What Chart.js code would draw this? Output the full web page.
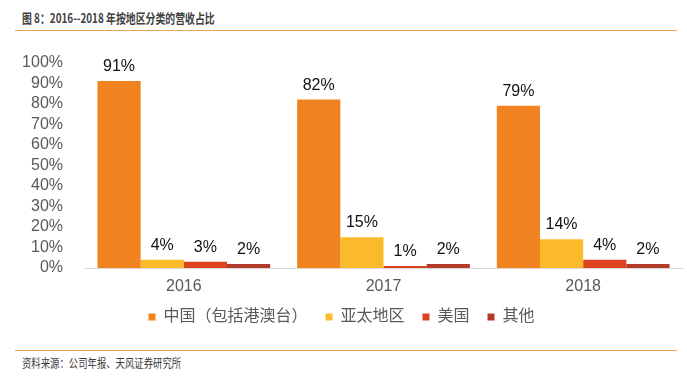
<!DOCTYPE html>
<html>
<head>
<meta charset="utf-8">
<script src="https://cdn.jsdelivr.net/npm/chart.js@4"></script>
<style>
  body { margin: 0; background: #fff; }
  #wrap { position: relative; width: 687px; height: 378px; overflow: hidden; }
  #title { position: absolute; left: 22px; top: 8px; font: bold 13px "Noto Sans CJK SC", sans-serif; color: #404040; transform: scaleX(0.76); transform-origin: left top; white-space: nowrap; }
  .rule { position: absolute; left: 15px; width: 662px; height: 1px; background: #E9A15C; }
  #source { position: absolute; left: 22px; top: 354px; font: 12px "Noto Sans CJK SC", sans-serif; color: #3a3a3a; transform: scaleX(0.78); transform-origin: left top; white-space: nowrap; }
  #chart { position: absolute; left: 0; top: 40px; }
</style>
</head>
<body>
<div id="wrap">
  <div id="title">图 8：2016--2018 年按地区分类的营收占比</div>
  <div class="rule" style="top:30px"></div>
  <canvas id="chart" width="687" height="300"></canvas>
  <div class="rule" style="top:350px"></div>
  <div id="source">资料来源：公司年报、天风证券研究所</div>
</div>
<script>
const years = ["2016", "2017", "2018"];
const seriesNames = ["中国（包括港澳台）", "亚太地区", "美国", "其他"];
const china = [91, 82, 79];
const asiaPacific = [4, 15, 14];
const usa = [3, 1, 4];
const other = [2, 2, 2];
const yTicks = [0, 10, 20, 30, 40, 50, 60, 70, 80, 90, 100];

const colors = ["#F0821F", "#FBBA2A", "#DE411E", "#B43A2B"];
const fontFamily = "'Liberation Sans', Arial, 'Noto Sans CJK SC', sans-serif";

let valueLabels = {
    id: "valueLabels",
    afterDatasetsDraw: (chart) => {
        const {ctx} = chart;
        ctx.save();
        ctx.fillStyle = "#111";
        ctx.font = "16px " + fontFamily;
        ctx.textAlign = "center";
        ctx.textBaseline = "alphabetic";
        chart.data.datasets.forEach((ds, i) => {
            chart.getDatasetMeta(i).data.forEach((bar, j) => {
                ctx.fillText(ds.data[j] + "%", bar.x, bar.y - 10);
            });
        });
        ctx.restore();
    }
}

let data = {
    labels: years,
    datasets: [china, asiaPacific, usa, other].map((arr, i) => ({
        label: seriesNames[i],
        data: arr,
        backgroundColor: colors[i],
        categoryPercentage: 0.865,
        barPercentage: 1.0
    }))
}

let options = {
    responsive: false,
    devicePixelRatio: 1,
    animation: false,
    layout: {padding: {top: 22, right: 4, left: 0, bottom: 5}},
    plugins: {
        legend: {
            position: "bottom",
            labels: {
                boxWidth: 7,
                boxHeight: 7,
                padding: 18,
                color: "#595959",
                font: {size: 16, family: fontFamily}
            }
        },
        tooltip: {enabled: false}
    },
    scales: {
        x: {
            grid: {display: false},
            border: {color: "#D9D9D9"},
            ticks: {color: "#595959", padding: 1, font: {size: 16, family: fontFamily}},
            afterFit: (scale) => { scale.height = 23; }
        },
        y: {
            min: 0,
            max: 100,
            grid: {display: false},
            border: {display: false},
            afterBuildTicks: (scale) => { scale.ticks = yTicks.map(v => ({value: v})); },
            ticks: {
                autoSkip: false,
                color: "#595959",
                padding: 13,
                font: {size: 16, family: fontFamily},
                callback: (v) => v + "%"
            },
            afterFit: (scale) => { scale.width = 84; }
        }
    }
}

new Chart(document.getElementById("chart"), {
    type: "bar",
    data: data,
    options: options,
    plugins: [valueLabels]
});
</script>
</body>
</html>
